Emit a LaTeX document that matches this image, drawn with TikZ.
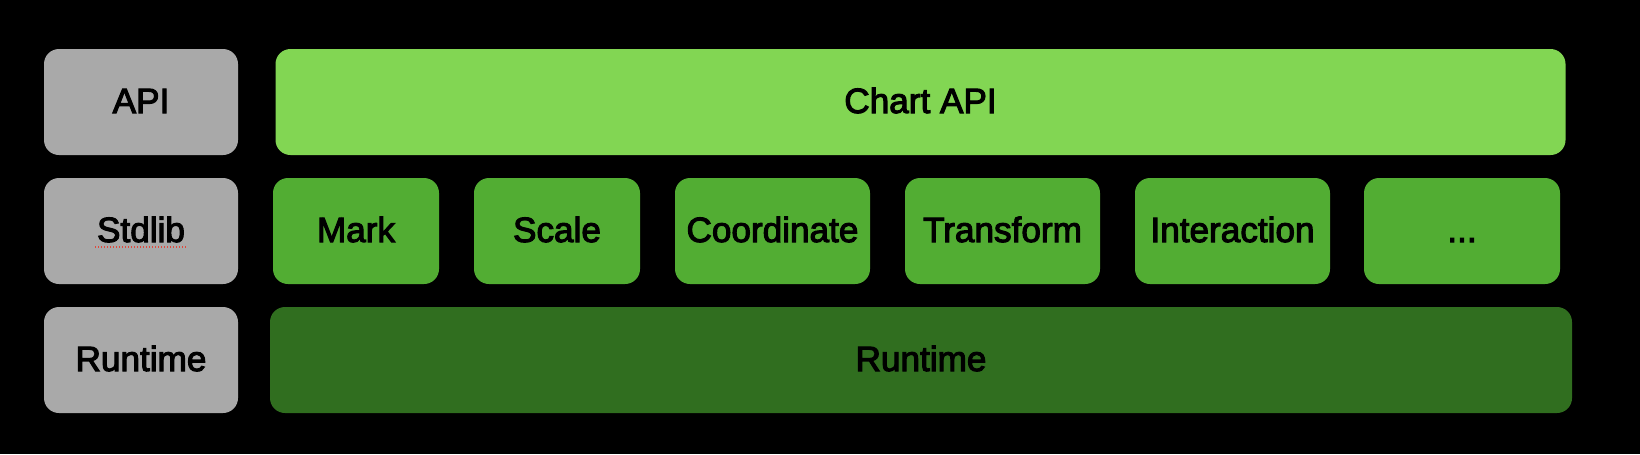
\documentclass[tikz,border=0pt]{standalone}
\usepackage{fontspec}
\setmainfont{Liberation Sans}
\newfontfamily\boxfont{Liberation Sans}[FakeBold=3]
\usepackage{tikz}
\usetikzlibrary{calc, positioning}
\definecolor{layergray}{HTML}{A9A9A9}
\definecolor{apigreen}{HTML}{82D653}
\definecolor{libgreen}{HTML}{52AD33}
\definecolor{rtgreen}{HTML}{306E1F}
\definecolor{spellred}{HTML}{E0483C}

\tikzset{
  layer/.style={rounded corners=0.3cm, minimum height=2.12cm, inner sep=0pt,
    text height=0.5cm, text depth=0.06cm,
    font=\fontsize{20}{24}\boxfont, text=black},
  tag/.style={layer, fill=layergray, minimum width=3.88cm},
  libbox/.style={layer, fill=libgreen}
}

\begin{document}
\begin{tikzpicture}
  \fill[black] (0,0) rectangle (32.8,-9.08);
  \useasboundingbox (0,0) rectangle (32.8,-9.08);
  % left column: layer names
  \node[tag] (tagapi) at (2.82,-2.04) {API};
  \node[tag] (tagstd) at (2.82,-4.62) {Stdlib};
  \node[tag] (tagrt)  at (2.82,-7.20) {Runtime};
  % dotted spell-check mark under Stdlib
  \foreach \k in {0,...,30}{
    \fill[spellred] ($(tagstd.base)+(-0.93+\k*0.06,-0.07)$) rectangle ++(0.035,-0.04);
  }
  % top layer
  \node[layer, fill=apigreen, minimum width=25.8cm] (chartapi) at (18.41,-2.04) {Chart API};
  % stdlib modules
  \foreach \nm/\cx/\w/\txt in {mark/7.12/3.32/Mark, scale/11.14/3.32/Scale,
      coord/15.45/3.9/Coordinate, transform/20.05/3.9/Transform,
      interact/24.65/3.9/Interaction}{
    \node[libbox, minimum width=\w cm] (\nm) at (\cx,-4.62) {\txt};
  }
  \node[libbox, minimum width=3.92cm] (more) at (29.24,-4.62) {...};
  % bottom layer
  \node[layer, fill=rtgreen, minimum width=26.04cm] (runtime) at (18.42,-7.20) {Runtime};
\end{tikzpicture}
\end{document}
